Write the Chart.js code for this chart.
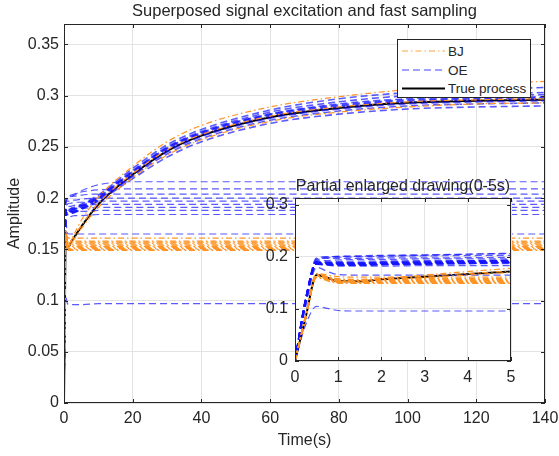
<!DOCTYPE html>
<html lang="en">
<head>
  <meta charset="UTF-8" />
  <title>Superposed signal excitation and fast sampling</title>
  <script src="https://cdn.jsdelivr.net/npm/chart.js"></script>
  <style>
    body { margin: 0; background: #fff; }
    #wrap { position: relative; width: 559px; height: 456px; }
    #mainChart { position: absolute; left: 0; top: 0; }
    #zoomChart { position: absolute; left: 255px; top: 172px; }
    #legend { position: absolute; left: 397px; top: 39px; }
  </style>
</head>
<body>
  <div id="wrap">
    <canvas id="mainChart" width="559" height="456"></canvas>
    <canvas id="zoomChart" width="280" height="215"></canvas>
    <svg id="legend" width="134" height="59" font-family="Liberation Sans, Arial, sans-serif" font-size="13.5" fill="#262626">
      <rect x="0.5" y="0.5" width="133" height="58" fill="#fff" stroke="#262626" />
      <line x1="5" y1="12" x2="48" y2="12" stroke="#f7a545" stroke-width="1.2" stroke-dasharray="6 3 1.5 3" />
      <line x1="5" y1="31" x2="48" y2="31" stroke="rgba(20,20,255,0.8)" stroke-width="1.2" stroke-dasharray="7 4" />
      <line x1="5" y1="49.5" x2="48" y2="49.5" stroke="#000" stroke-width="2" />
      <text x="51" y="16.8">BJ</text>
      <text x="51" y="35.8">OE</text>
      <text x="51" y="54.3">True process</text>
    </svg>
  </div>

  <script>
    // time points (s)
    const T = [0, 0.25, 0.5, 0.75, 1, 1.5, 2, 3, 5, 10, 20, 30, 40, 60, 80, 100, 120, 140];

    const trueProcess = [0, 0.085, 0.165, 0.160, 0.153, 0.153, 0.157, 0.162, 0.172, 0.194, 0.223, 0.246, 0.261, 0.279, 0.288, 0.293, 0.295, 0.296];

    // BJ estimates
    const bjUpper = [0, 0.090, 0.168, 0.161, 0.153, 0.154, 0.158, 0.165, 0.178, 0.201, 0.231, 0.255, 0.271, 0.289, 0.299, 0.306, 0.311, 0.314];
    const bjMid   = [0, 0.086, 0.166, 0.160, 0.153, 0.154, 0.158, 0.163, 0.173, 0.195, 0.224, 0.247, 0.262, 0.280, 0.289, 0.294, 0.296, 0.297];
    const bjLow   = [0, 0.084, 0.163, 0.157, 0.151, 0.151, 0.155, 0.160, 0.170, 0.191, 0.220, 0.242, 0.257, 0.275, 0.284, 0.289, 0.292, 0.293];
    const bjF1  = [0, 0.083, 0.160, 0.154, 0.149, 0.149, 0.149, 0.149, 0.149, 0.149, 0.149, 0.149, 0.149, 0.149, 0.149, 0.149, 0.149, 0.149];
    const bjF2  = [0, 0.083, 0.161, 0.155, 0.150, 0.150, 0.150, 0.150, 0.150, 0.150, 0.150, 0.150, 0.150, 0.150, 0.150, 0.150, 0.150, 0.150];
    const bjF3  = [0, 0.084, 0.162, 0.156, 0.151, 0.150, 0.151, 0.151, 0.151, 0.151, 0.151, 0.151, 0.151, 0.151, 0.151, 0.151, 0.151, 0.151];
    const bjF4  = [0, 0.085, 0.163, 0.157, 0.152, 0.151, 0.152, 0.152, 0.152, 0.152, 0.152, 0.152, 0.152, 0.152, 0.152, 0.152, 0.152, 0.152];
    const bjF5  = [0, 0.085, 0.164, 0.158, 0.153, 0.152, 0.153, 0.153, 0.153, 0.153, 0.153, 0.153, 0.153, 0.153, 0.153, 0.153, 0.153, 0.153];
    const bjF6  = [0, 0.086, 0.164, 0.159, 0.154, 0.153, 0.154, 0.154, 0.154, 0.154, 0.154, 0.154, 0.154, 0.154, 0.154, 0.154, 0.154, 0.154];
    const bjF7  = [0, 0.086, 0.165, 0.160, 0.155, 0.154, 0.155, 0.155, 0.155, 0.155, 0.155, 0.155, 0.155, 0.155, 0.155, 0.155, 0.155, 0.155];
    const bjF8  = [0, 0.086, 0.166, 0.161, 0.156, 0.155, 0.156, 0.156, 0.156, 0.156, 0.156, 0.156, 0.156, 0.156, 0.156, 0.156, 0.156, 0.156];
    const bjF9  = [0, 0.087, 0.166, 0.162, 0.157, 0.156, 0.157, 0.157, 0.157, 0.157, 0.157, 0.157, 0.157, 0.157, 0.157, 0.157, 0.157, 0.157];
    const bjF10 = [0, 0.087, 0.167, 0.162, 0.158, 0.157, 0.158, 0.158, 0.158, 0.158, 0.158, 0.158, 0.158, 0.158, 0.158, 0.158, 0.158, 0.158];
    const bjF11 = [0, 0.088, 0.168, 0.165, 0.162, 0.161, 0.161, 0.161, 0.161, 0.161, 0.161, 0.161, 0.161, 0.161, 0.161, 0.161, 0.161, 0.161];

    // OE estimates
    const oeF1  = [0, 0.110, 0.192, 0.198, 0.199, 0.200, 0.201, 0.203, 0.207, 0.213, 0.216, 0.216, 0.216, 0.216, 0.216, 0.216, 0.216, 0.216];
    const oeF2  = [0, 0.115, 0.195, 0.200, 0.201, 0.202, 0.203, 0.204, 0.206, 0.208, 0.209, 0.209, 0.209, 0.209, 0.209, 0.209, 0.209, 0.209];
    const oeF3  = [0, 0.120, 0.198, 0.200, 0.201, 0.201, 0.202, 0.202, 0.203, 0.204, 0.204, 0.204, 0.204, 0.204, 0.204, 0.204, 0.204, 0.204];
    const oeF4  = [0, 0.118, 0.196, 0.197, 0.197, 0.197, 0.198, 0.198, 0.199, 0.200, 0.200, 0.200, 0.200, 0.200, 0.200, 0.200, 0.200, 0.200];
    const oeF5  = [0, 0.117, 0.192, 0.193, 0.194, 0.195, 0.195, 0.196, 0.196, 0.197, 0.197, 0.197, 0.197, 0.197, 0.197, 0.197, 0.197, 0.197];
    const oeF6  = [0, 0.116, 0.190, 0.190, 0.191, 0.192, 0.192, 0.193, 0.193, 0.194, 0.194, 0.194, 0.194, 0.194, 0.194, 0.194, 0.194, 0.194];
    const oeF7  = [0, 0.115, 0.188, 0.188, 0.189, 0.189, 0.190, 0.190, 0.190, 0.191, 0.191, 0.191, 0.191, 0.191, 0.191, 0.191, 0.191, 0.191];
    const oeF8  = [0, 0.114, 0.188, 0.186, 0.186, 0.186, 0.187, 0.187, 0.187, 0.188, 0.188, 0.188, 0.188, 0.188, 0.188, 0.188, 0.188, 0.188];
    const oeF9  = [0, 0.112, 0.186, 0.184, 0.182, 0.182, 0.182, 0.183, 0.183, 0.184, 0.184, 0.184, 0.184, 0.184, 0.184, 0.184, 0.184, 0.184];
    const oeF10 = [0, 0.105, 0.180, 0.172, 0.166, 0.165, 0.165, 0.165, 0.165, 0.165, 0.165, 0.165, 0.165, 0.165, 0.165, 0.165, 0.165, 0.165];
    const oeF11 = [0, 0.070, 0.105, 0.101, 0.097, 0.096, 0.096, 0.096, 0.096, 0.097, 0.097, 0.097, 0.097, 0.097, 0.097, 0.097, 0.097, 0.097];
    const oeT1  = [0, 0.118, 0.190, 0.190, 0.189, 0.189, 0.190, 0.191, 0.194, 0.203, 0.229, 0.252, 0.267, 0.286, 0.297, 0.303, 0.306, 0.308];
    const oeT2  = [0, 0.119, 0.190, 0.189, 0.188, 0.188, 0.189, 0.190, 0.193, 0.202, 0.227, 0.250, 0.265, 0.284, 0.294, 0.300, 0.302, 0.303];
    const oeT3  = [0, 0.120, 0.189, 0.188, 0.187, 0.187, 0.188, 0.189, 0.192, 0.201, 0.226, 0.249, 0.264, 0.282, 0.292, 0.297, 0.300, 0.301];
    const oeT4  = [0, 0.121, 0.188, 0.188, 0.187, 0.187, 0.188, 0.189, 0.192, 0.201, 0.226, 0.249, 0.264, 0.282, 0.291, 0.296, 0.298, 0.299];
    const oeT5  = [0, 0.121, 0.188, 0.187, 0.186, 0.186, 0.187, 0.188, 0.191, 0.200, 0.225, 0.248, 0.263, 0.281, 0.290, 0.295, 0.297, 0.298];
    const oeT6  = [0, 0.120, 0.187, 0.186, 0.185, 0.185, 0.186, 0.187, 0.190, 0.199, 0.224, 0.247, 0.262, 0.280, 0.289, 0.294, 0.296, 0.297];
    const oeT7  = [0, 0.119, 0.187, 0.186, 0.185, 0.185, 0.186, 0.187, 0.190, 0.199, 0.222, 0.245, 0.260, 0.278, 0.287, 0.292, 0.294, 0.295];
    const oeT8  = [0, 0.118, 0.186, 0.185, 0.184, 0.184, 0.185, 0.186, 0.189, 0.198, 0.221, 0.243, 0.258, 0.276, 0.285, 0.290, 0.292, 0.293];
    const oeT9  = [0, 0.117, 0.186, 0.185, 0.184, 0.184, 0.185, 0.186, 0.189, 0.197, 0.219, 0.240, 0.255, 0.273, 0.282, 0.287, 0.289, 0.290];

    const bjSeries = [bjF1, bjF2, bjF3, bjF4, bjF5, bjF6, bjF7, bjF8, bjF9, bjF10, bjF11, bjLow, bjMid, bjUpper];
    const oeFlat = [oeF1, oeF2, oeF3, oeF4, oeF5, oeF6, oeF7, oeF8, oeF9, oeF10, oeF11];
    const oeTrack = [oeT1, oeT2, oeT3, oeT4, oeT5, oeT6, oeT7, oeT8, oeT9];

    const mainXTicks = [0, 140, 20];
    const mainYTicks = [0, 0.37, 0.05];
    const zoomXTicks = [0, 5, 1];
    const zoomYTicks = [0, 0.313, 0.1];

    const FONT = 'Liberation Sans, Arial, Helvetica, sans-serif';
    const INK = '#262626';
    const ORANGE = '#ff9424';
    const BLUE = 'rgba(20,20,255,0.7)';

    const pts = vals => T.map((t, i) => ({ x: t, y: vals[i] }));

    const buildDatasets = () => [
      ...bjSeries.map(s => ({
        label: 'BJ', data: pts(s), borderColor: ORANGE, borderWidth: 1.2,
        borderDash: [6, 3, 1.5, 3]
      })),
      ...oeFlat.map(s => ({
        label: 'OE', data: pts(s), borderColor: BLUE, borderWidth: 1.2, borderDash: [7, 4]
      })),
      ...oeTrack.map(s => ({
        label: 'OE', data: pts(s), borderColor: BLUE, borderWidth: 1.6, borderDash: [7, 4]
      })),
      { label: 'True process', data: pts(trueProcess), borderColor: '#000', borderWidth: 2 }
    ];

    // box round the plot area with inward ticks, like the original figure
    const boxPlugin = {
      id: 'box',
      beforeDraw(chart, args, opts) {
        if (!opts.fill) return;
        const { ctx, chartArea: a } = chart;
        ctx.save();
        ctx.fillStyle = '#fff';
        ctx.fillRect(a.left, a.top, a.right - a.left, a.bottom - a.top);
        ctx.restore();
      },
      afterDraw(chart) {
        const { ctx, chartArea: a, scales: { x, y } } = chart;
        ctx.save();
        ctx.strokeStyle = INK;
        ctx.lineWidth = 1;
        ctx.beginPath();
        x.ticks.forEach(t => {
          const px = Math.round(x.getPixelForValue(t.value)) + 0.5;
          ctx.moveTo(px, a.bottom); ctx.lineTo(px, a.bottom - 4);
          ctx.moveTo(px, a.top); ctx.lineTo(px, a.top + 4);
        });
        y.ticks.forEach(t => {
          const py = Math.round(y.getPixelForValue(t.value)) + 0.5;
          ctx.moveTo(a.left, py); ctx.lineTo(a.left + 4, py);
          ctx.moveTo(a.right, py); ctx.lineTo(a.right - 4, py);
        });
        ctx.stroke();
        ctx.strokeRect(Math.round(a.left) + 0.5, Math.round(a.top) + 0.5,
          Math.round(a.right - a.left) - 1, Math.round(a.bottom - a.top) - 1);
        ctx.restore();
      }
    };

    const fmt = v => String(+Number(v).toFixed(3));

    const makeOptions = cfg => ({
      responsive: false,
      animation: false,
      layout: { padding: { left: 0, top: 0, right: cfg.padRight, bottom: 0 } },
      elements: { point: { radius: 0 }, line: { cubicInterpolationMode: 'monotone' } },
      plugins: {
        legend: { display: false },
        tooltip: { enabled: false },
        box: { fill: cfg.fill },
        title: {
          display: true, text: cfg.title, fullSize: false, color: INK,
          font: { family: FONT, size: cfg.titleSize, weight: 'normal' },
          padding: cfg.titlePad
        }
      },
      scales: {
        x: {
          type: 'linear', min: cfg.xt[0], max: cfg.xt[1],
          afterFit: s => { s.height = cfg.xH; s.paddingLeft = 0; s.paddingRight = 0; },
          grid: { color: '#e3e3e3', drawTicks: false },
          border: { display: false },
          ticks: { stepSize: cfg.xt[2], autoSkip: false, maxRotation: 0, padding: cfg.xPad,
            color: INK, font: { family: FONT, size: 16 }, callback: fmt },
          title: cfg.xTitle ? { display: true, text: cfg.xTitle, color: INK,
            font: { family: FONT, size: 16 }, padding: { top: 0, bottom: 6 } } : { display: false }
        },
        y: {
          min: cfg.yt[0], max: cfg.yt[1],
          afterFit: s => { s.width = cfg.yW; s.paddingTop = 0; s.paddingBottom = 0; },
          grid: { color: '#e3e3e3', drawTicks: false },
          border: { display: false },
          ticks: { stepSize: cfg.yt[2], includeBounds: false, autoSkip: false, padding: cfg.yPad,
            color: INK, font: { family: FONT, size: 16 }, callback: fmt },
          title: cfg.yTitle ? { display: true, text: cfg.yTitle, color: INK,
            font: { family: FONT, size: 16 }, padding: { top: 5, bottom: 0 } } : { display: false }
        }
      }
    });

    new Chart(document.getElementById('mainChart'), {
      type: 'line',
      data: { datasets: buildDatasets() },
      options: makeOptions({
        title: 'Superposed signal excitation and fast sampling', titleSize: 16.5,
        titlePad: { top: 2, bottom: 2.2 }, padRight: 14, fill: false,
        xt: mainXTicks, yt: mainYTicks, xH: 53, yW: 64, xPad: 6, yPad: 5,
        xTitle: 'Time(s)', yTitle: 'Amplitude'
      }),
      plugins: [boxPlugin]
    });

    new Chart(document.getElementById('zoomChart'), {
      type: 'line',
      data: { datasets: buildDatasets() },
      options: makeOptions({
        title: 'Partial enlarged drawing(0-5s)', titleSize: 16,
        titlePad: { top: 5, bottom: 1.8 }, padRight: 24, fill: true,
        xt: zoomXTicks, yt: zoomYTicks, xH: 26, yW: 40, xPad: 7, yPad: 7
      }),
      plugins: [boxPlugin]
    });
  </script>
</body>
</html>
